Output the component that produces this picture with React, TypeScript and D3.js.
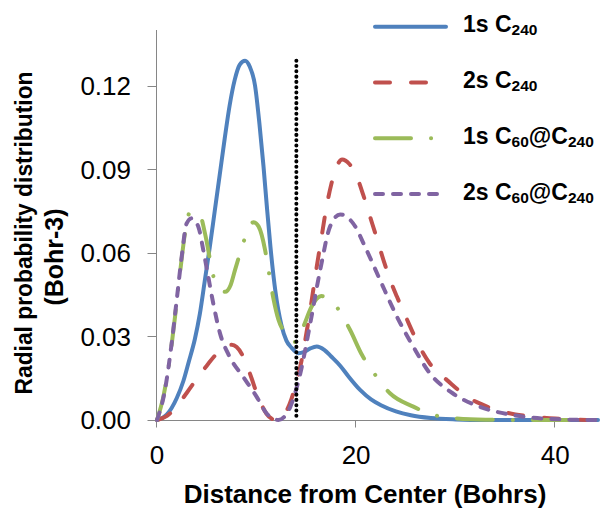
import React from "react";
import * as d3 from "d3";

// Radial distance (Bohr) and probability (Bohr^-3) for each orbital
const r1sC240 = [0, 1, 2, 2.65, 3.2, 3.8, 4.3, 4.8, 5.3, 5.8, 6.3, 6.8, 7.3, 7.8, 8.3, 8.85, 9.3, 9.85, 10.3, 10.7, 11.05, 11.4, 11.9, 12.5, 13, 13.5, 14.2, 14.8, 15.4, 16.05, 16.8, 17.5, 18.4, 19.2, 20.4, 21.5, 22.5, 24, 25.5, 27.5, 30, 33, 37, 44.3];
const p1sC240 = [0, 0.002, 0.008, 0.014, 0.021, 0.029, 0.038, 0.05, 0.062, 0.075, 0.088, 0.101, 0.113, 0.122, 0.1275, 0.129, 0.127, 0.12, 0.106, 0.091, 0.076, 0.062, 0.046, 0.034, 0.0285, 0.026, 0.024, 0.0245, 0.0257, 0.0264, 0.0252, 0.0228, 0.0195, 0.0158, 0.0108, 0.0074, 0.0053, 0.0031, 0.0017, 0.0007, 0.0002, 0, 0, 0];

const r2sC240 = [0, 1, 2, 3, 4, 5, 6, 7, 7.5, 8, 8.5, 9, 9.5, 10, 10.5, 11, 11.5, 12, 12.5, 13, 13.5, 14, 14.5, 15, 15.5, 16, 16.5, 17, 17.5, 18, 18.6, 19.3, 20.07, 20.7, 21.4, 22.1, 22.75, 23.4, 24.1, 25, 25.75, 26.5, 27.4, 28.2, 29.1, 30.2, 31.4, 32.7, 34.1, 36, 37.8, 40, 42.5, 44.3];
const p2sC240 = [0, 0.0015, 0.005, 0.0098, 0.0148, 0.0195, 0.0238, 0.0265, 0.027, 0.0262, 0.0238, 0.0198, 0.015, 0.0098, 0.0055, 0.0022, 0.0005, 0, 0.0008, 0.0032, 0.0075, 0.0135, 0.021, 0.031, 0.042, 0.054, 0.065, 0.076, 0.0845, 0.0905, 0.0935, 0.092, 0.0874, 0.081, 0.073, 0.065, 0.0574, 0.0505, 0.0443, 0.037, 0.031, 0.0255, 0.0203, 0.017, 0.0144, 0.011, 0.0078, 0.0055, 0.0036, 0.002, 0.0012, 0.0005, 0.0001, 0];

const r1sOnion = [0, 0.64, 1.31, 1.81, 2.31, 2.81, 3.25, 3.8, 4.32, 4.82, 5.15, 5.5, 6.16, 6.83, 7.4, 7.84, 8.5, 9.1, 9.7, 10.2, 10.86, 11.2, 11.7, 12.2, 12.8, 13.4, 13.9, 14.7, 15.5, 16.5, 17.2, 17.9, 18.6, 19.4, 20.6, 21.8, 23.4, 25.75, 27.8, 30, 33, 37, 44.3];
const p1sOnion = [0, 0.0084, 0.0227, 0.0371, 0.0527, 0.067, 0.0742, 0.0748, 0.0736, 0.067, 0.061, 0.0539, 0.0479, 0.046, 0.0485, 0.0539, 0.0616, 0.068, 0.071, 0.0695, 0.061, 0.0539, 0.0435, 0.036, 0.0315, 0.0287, 0.028, 0.0335, 0.0405, 0.0445, 0.0435, 0.0413, 0.0375, 0.0323, 0.0233, 0.0168, 0.0096, 0.0048, 0.0018, 0.0006, 0.0001, 0, 0];

const r2sOnion = [0, 0.8, 1.47, 1.98, 2.48, 2.98, 3.48, 4.15, 4.65, 5.15, 5.65, 6.33, 7.3, 8.66, 10, 11, 11.6, 12.2, 12.8, 13.4, 14.4, 15.4, 16.4, 17.4, 18.4, 19.7, 21.05, 22.4, 24.1, 25.75, 27.4, 29.7, 32.4, 35.7, 40.7, 44.3];
const p2sOnion = [0, 0.0108, 0.0275, 0.0431, 0.0586, 0.0706, 0.0724, 0.0694, 0.061, 0.0514, 0.0419, 0.0311, 0.0227, 0.0155, 0.0084, 0.0024, 0.0006, 0, 0.0012, 0.0048, 0.0168, 0.0348, 0.054, 0.0696, 0.0738, 0.0706, 0.061, 0.0503, 0.0371, 0.0263, 0.0168, 0.0096, 0.0048, 0.0018, 0.0002, 0];

// Cage radius marker
const cageRadius = 14;
const cageMarkerTop = 0.129;

const xTicks = [0, 20, 40];
const yTicks = [0, 0.03, 0.06, 0.09, 0.12];

const FONT = "'Liberation Sans', Arial, sans-serif";

type Series = {
  key: string;
  r: number[];
  p: number[];
  color: string;
  dash: string;
  labelParts: { t: string; sub?: boolean }[];
};

const series: Series[] = [
  { key: "1sC240", r: r1sC240, p: p1sC240, color: "#4F81BD", dash: "none",
    labelParts: [{ t: "1s C" }, { t: "240", sub: true }] },
  { key: "2sC240", r: r2sC240, p: p2sC240, color: "#C0504D", dash: "15 21",
    labelParts: [{ t: "2s C" }, { t: "240", sub: true }] },
  { key: "1sOnion", r: r1sOnion, p: p1sOnion, color: "#9BBB59", dash: "36 20 0.1 20",
    labelParts: [{ t: "1s C" }, { t: "60", sub: true }, { t: "@C" }, { t: "240", sub: true }] },
  { key: "2sOnion", r: r2sOnion, p: p2sOnion, color: "#8064A2", dash: "8 10",
    labelParts: [{ t: "2s C" }, { t: "60", sub: true }, { t: "@C" }, { t: "240", sub: true }] },
];

export default function App() {
  const W = 603;
  const H = 510;
  const x = d3.scaleLinear().domain([0, 44.3]).range([157, 598]);
  const y = d3.scaleLinear().domain([0, 0.14]).range([420, 30]);

  const line = d3
    .line<[number, number]>()
    .x((d) => x(d[0]))
    .y((d) => y(d[1]))
    .curve(d3.curveMonotoneX);

  const axisColor = "#868686";
  const x0 = Math.round(x(0)) - 0.5;
  const yBase = Math.round(y(0)) + 0.5;

  return (
    <svg
      width={W}
      height={H}
      style={{ position: "absolute", left: 0, top: 0, background: "#fff" }}
      fontFamily={FONT}
    >
      {/* axes */}
      <line x1={x0} x2={x0} y1={y(0.14)} y2={yBase} stroke={axisColor} strokeWidth={1} />
      <line x1={x0} x2={x(44.3)} y1={yBase} y2={yBase} stroke={axisColor} strokeWidth={1} />
      {yTicks.map((t) => (
        <g key={"y" + t}>
          <line x1={x0 - 9} x2={x0} y1={Math.round(y(t)) + 0.5} y2={Math.round(y(t)) + 0.5} stroke={axisColor} />
          <text x={131} y={y(t)} dy="0.36em" textAnchor="end" fontSize={26} fill="#000">
            {t.toFixed(2)}
          </text>
        </g>
      ))}
      {xTicks.map((t) => (
        <g key={"x" + t}>
          <line x1={Math.round(x(t)) - 0.5} x2={Math.round(x(t)) - 0.5} y1={yBase} y2={yBase + 7} stroke={axisColor} />
          <text x={x(t)} y={464} textAnchor="middle" fontSize={26} fill="#000">
            {t}
          </text>
        </g>
      ))}

      {/* axis titles */}
      <text x={365} y={503} textAnchor="middle" fontSize={26} fontWeight="bold" fill="#000">
        Distance from Center (Bohrs)
      </text>
      <text
        transform="translate(32,233) rotate(-90)"
        textAnchor="middle"
        fontSize={24}
        fontWeight="bold"
        fill="#000"
        textLength={323}
        lengthAdjust="spacingAndGlyphs"
      >
        Radial probability distribution
      </text>
      <text transform="translate(63,257) rotate(-90)" textAnchor="middle" fontSize={25} fontWeight="bold" fill="#000">
        (Bohr-3)
      </text>

      {/* curves */}
      {series.map((s) => (
        <path
          key={s.key}
          d={line(s.r.map((v, i) => [v, s.p[i]] as [number, number])) || ""}
          fill="none"
          stroke={s.color}
          strokeWidth={4}
          strokeDasharray={s.dash}
          strokeLinecap="round"
          strokeLinejoin="round"
        />
      ))}

      {/* cage radius marker */}
      <line
        x1={x(cageRadius)}
        x2={x(cageRadius)}
        y1={y(cageMarkerTop)}
        y2={y(0)}
        stroke="#000"
        strokeWidth={4}
        strokeDasharray="0.1 5.2"
        strokeLinecap="round"
      />

      {/* legend */}
      {series.map((s, i) => {
        const ly = 26.7 + i * 55.8;
        return (
          <g key={"lg" + s.key}>
            <line
              x1={375}
              x2={446}
              y1={ly}
              y2={ly}
              stroke={s.color}
              strokeWidth={4}
              strokeDasharray={s.dash}
              strokeLinecap="round"
            />
            <text x={463} y={ly + 5.5} fontSize={23} fontWeight="bold" fill="#000">
              {s.labelParts.map((p, j) => (
                <tspan key={j} fontSize={p.sub ? 15.5 : 23} dy={p.sub ? 3 : j > 0 ? -3 : 0}>
                  {p.t}
                </tspan>
              ))}
            </text>
          </g>
        );
      })}
    </svg>
  );
}
